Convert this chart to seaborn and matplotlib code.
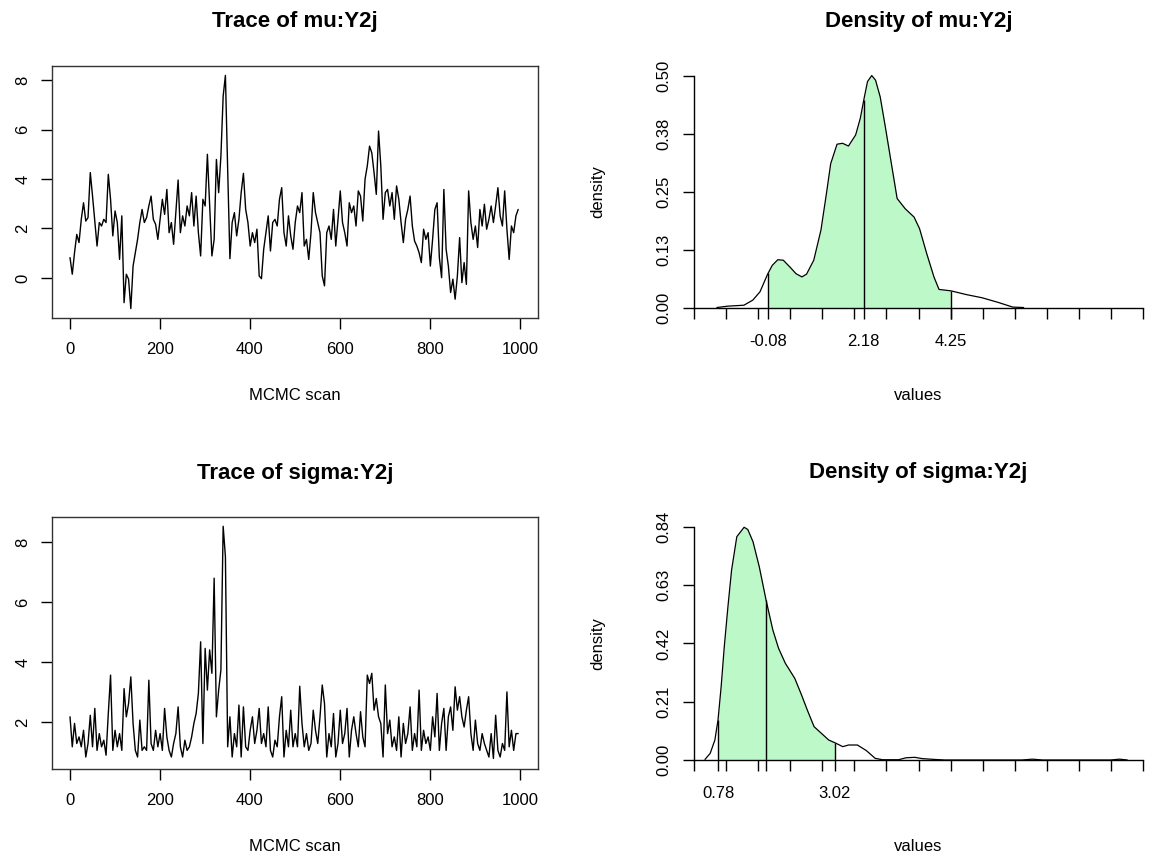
import matplotlib
matplotlib.use("Agg")
import matplotlib.pyplot as plt
import numpy as np
import seaborn as sns

# MCMC draws (one value every 5th scan)
scan_step = 5
mu_trace = [
    0.82, 0.15, 1.02, 1.76, 1.43, 2.37, 3.04, 2.30, 2.44, 4.26,
    3.31, 2.30, 1.29, 2.24, 2.10, 2.37, 2.24, 4.19, 3.18, 1.70,
    2.71, 2.24, 0.75, 2.51, -1.00, 0.15, -0.05, -1.24, 0.48, 1.02,
    1.56, 2.24, 2.77, 2.24, 2.44, 2.91, 3.31, 2.37, 2.17, 1.56,
    2.37, 3.18, 2.57, 3.58, 1.83, 2.24, 1.36, 2.64, 3.96, 1.83,
    2.51, 2.10, 2.91, 2.51, 3.45, 2.10, 3.31, 1.83, 0.89, 3.18,
    2.91, 5.00, 2.91, 0.89, 1.56, 4.79, 3.45, 4.93, 7.35, 8.19,
    4.39, 0.78, 2.24, 2.64, 1.70, 2.37, 3.45, 4.23, 2.77, 2.24,
    1.29, 1.83, 1.43, 1.97, 0.08, -0.03, 1.16, 1.83, 2.51, 1.09,
    2.24, 2.37, 2.10, 3.18, 3.65, 1.83, 1.29, 2.51, 1.70, 1.16,
    2.24, 2.91, 2.64, 3.45, 1.29, 1.56, 0.75, 1.83, 3.45, 2.64,
    2.24, 1.83, 0.08, -0.32, 1.83, 2.10, 1.56, 2.77, 1.29, 2.37,
    3.52, 2.24, 1.83, 1.29, 3.04, 2.64, 2.91, 2.10, 3.52, 3.31,
    2.30, 3.99, 4.53, 5.33, 5.06, 4.26, 3.38, 5.94, 4.53, 2.37,
    3.45, 3.58, 2.91, 3.45, 2.37, 3.72, 3.18, 2.24, 1.43, 2.37,
    2.77, 3.31, 2.10, 1.49, 1.29, 1.02, 0.62, 1.97, 1.56, 1.83,
    0.48, 1.56, 2.77, 3.04, 0.82, 0.01, 3.58, 1.16, 0.48, -0.59,
    -0.05, -0.86, 0.08, 1.63, -0.19, 0.62, -0.26, 3.52, 2.24, 1.56,
    2.10, 1.23, 2.77, 2.10, 2.98, 1.97, 2.37, 2.91, 2.24, 2.91,
    3.65, 2.51, 2.10, 3.52, 1.97, 0.75, 2.10, 1.83, 2.51, 2.77,
]
sigma_trace = [
    2.18, 1.18, 1.96, 1.29, 1.51, 1.18, 1.73, 0.84, 1.29, 2.23,
    1.18, 2.46, 1.06, 1.62, 1.18, 1.40, 0.90, 2.29, 3.57, 1.06,
    1.73, 1.18, 1.62, 1.06, 3.12, 2.18, 2.62, 3.51, 1.96, 1.06,
    0.84, 2.07, 1.06, 1.18, 1.06, 3.40, 1.29, 1.06, 1.73, 1.18,
    1.62, 1.06, 2.46, 1.51, 1.06, 0.84, 1.29, 1.62, 2.51, 1.18,
    0.84, 1.40, 1.06, 1.18, 1.51, 1.96, 2.29, 2.96, 4.68, 1.29,
    4.46, 3.07, 4.41, 3.63, 6.80, 2.18, 3.07, 3.74, 8.53, 7.52,
    1.18, 2.18, 0.84, 1.62, 1.18, 2.57, 0.84, 2.51, 1.18, 1.06,
    1.73, 2.18, 1.29, 1.73, 2.46, 1.29, 1.62, 1.18, 2.51, 1.06,
    0.84, 1.40, 1.18, 2.18, 2.85, 0.84, 1.73, 1.18, 2.40, 1.18,
    1.62, 1.18, 3.20, 1.96, 1.18, 1.62, 1.06, 1.29, 2.40, 1.73,
    1.29, 2.18, 3.24, 2.62, 0.84, 1.62, 1.18, 2.29, 0.84, 1.29,
    2.40, 1.29, 1.62, 2.46, 0.84, 1.73, 2.18, 1.62, 1.18, 2.35,
    1.51, 1.18, 3.57, 3.29, 3.63, 2.40, 2.79, 2.18, 1.96, 0.84,
    3.24, 1.62, 2.07, 1.18, 1.51, 1.06, 2.18, 0.84, 1.96, 1.29,
    1.62, 2.51, 1.06, 1.62, 1.18, 3.07, 1.06, 1.73, 1.29, 1.51,
    1.06, 2.18, 1.51, 2.96, 1.06, 1.96, 2.46, 1.06, 2.18, 2.51,
    1.73, 3.18, 2.40, 2.85, 2.18, 1.84, 2.40, 2.85, 1.62, 1.06,
    2.07, 1.29, 1.06, 1.62, 1.29, 1.06, 0.84, 1.62, 0.79, 2.23,
    1.06, 0.84, 1.29, 1.06, 3.01, 1.18, 1.73, 1.06, 1.62, 1.62,
]

# density curves
mu_dens_x = [-1.29, -1.03, -0.65, -0.44, -0.27, -0.09, 0.02, 0.15, 0.28, 0.45,
             0.58, 0.72, 0.83, 1.00, 1.17, 1.30, 1.40, 1.55, 1.68, 1.82,
             1.99, 2.10, 2.19, 2.27, 2.37, 2.46, 2.57, 2.69, 2.82, 2.97,
             3.16, 3.37, 3.50, 3.67, 3.84, 3.96, 4.24, 4.60, 4.98, 5.36,
             5.70, 5.96]
mu_dens_y = [0.001, 0.004, 0.006, 0.017, 0.035, 0.073, 0.092, 0.104, 0.103, 0.087,
             0.074, 0.067, 0.073, 0.103, 0.168, 0.247, 0.311, 0.353, 0.355, 0.349,
             0.373, 0.409, 0.452, 0.488, 0.501, 0.491, 0.455, 0.391, 0.319, 0.236,
             0.214, 0.196, 0.171, 0.117, 0.067, 0.040, 0.037, 0.029, 0.022, 0.012,
             0.002, 0.001]
sigma_dens_x = [0.53, 0.63, 0.72, 0.78, 0.84, 0.90, 0.97, 1.04, 1.14, 1.28,
                1.35, 1.45, 1.57, 1.70, 1.83, 1.94, 2.07, 2.25, 2.38, 2.49,
                2.62, 2.76, 2.90, 3.02, 3.17, 3.28, 3.45, 3.62, 3.79, 3.93,
                4.24, 4.38, 4.55, 4.69, 4.93, 5.13, 6.60, 6.80, 7.00, 8.30,
                8.47, 8.62]
sigma_dens_y = [0.002, 0.024, 0.072, 0.144, 0.264, 0.408, 0.552, 0.684, 0.804, 0.838,
                0.830, 0.786, 0.696, 0.576, 0.468, 0.402, 0.348, 0.294, 0.234, 0.180,
                0.120, 0.096, 0.072, 0.062, 0.048, 0.054, 0.054, 0.034, 0.006, 0.001,
                0.001, 0.008, 0.0096, 0.005, 0.002, 0.0, 0.0, 0.003, 0.0, 0.0,
                0.003, 0.0]

# 2.5%, 50% and 97.5% quantiles marked on the density axes
mu_quant = [-0.08, 2.18, 4.25]
mu_quant_labels = ["-0.08", "2.18", "4.25"]
sigma_quant = [0.78, 1.70, 3.02]
sigma_quant_labels = ["0.78", "", "3.02"]

mu_trace_ticks = [0, 2, 4, 6, 8]
sigma_trace_ticks = [2, 4, 6, 8]
scan_ticks = [0, 200, 400, 600, 800, 1000]
mu_dens_ticks = [0, 0.125, 0.25, 0.375, 0.5]
mu_dens_ticklabels = ["0.00", "0.13", "0.25", "0.38", "0.50"]
sigma_dens_ticks = [0, 0.21, 0.42, 0.63, 0.84]
sigma_dens_ticklabels = ["0.00", "0.21", "0.42", "0.63", "0.84"]

sns.set_style("ticks")
plt.rcParams["font.family"] = ["Liberation Sans", "DejaVu Sans"]
plt.rcParams["text.color"] = "black"
plt.rcParams["axes.labelcolor"] = "black"

W, H = 1152, 857
fig = plt.figure(figsize=(W / 100, H / 100), dpi=100)
FILL = "#bdf8c9"
TICK_FS = 12


def px_axes(x0, y0, x1, y1):
    # axes from pixel box (top-left origin)
    return fig.add_axes([x0 / W, 1 - y1 / H, (x1 - x0) / W, (y1 - y0) / H])


def trace_panel(box, values, yticks, ylim, title):
    ax = px_axes(*box)
    scans = 1 + scan_step * np.arange(len(values))
    sns.lineplot(x=scans, y=values, ax=ax, color="black", linewidth=1.0,
                 estimator=None, sort=False)
    ax.set_xlim(-39, 1040)
    ax.set_ylim(*ylim)
    ax.set_xticks(scan_ticks)
    ax.set_yticks(yticks)
    ax.tick_params(axis="both", length=8, width=1, color="black",
                   labelsize=TICK_FS, labelcolor="black")
    ax.tick_params(axis="x", pad=9)
    ax.tick_params(axis="y", pad=7.5, labelrotation=90)
    for lab in ax.get_yticklabels():
        lab.set_va("center")
    for s in ax.spines.values():
        s.set_linewidth(1)
        s.set_color("#333333")
    ax.set_xlabel("MCMC scan", fontsize=TICK_FS, color="black")
    ax.xaxis.set_label_coords(0.5, -0.306)
    ax.xaxis.label.set_va("center")
    ax.set_ylabel("")
    fig.text((box[0] + box[2]) / 2 / W, 1 - (box[1] - 44) / H, title,
             ha="center", va="center", fontsize=16, fontweight="bold",
             color="black")
    return ax


def density_panel(box, xs, ys, xlim, ylim, yticks, yticklabels,
                  quant, quant_labels, title, label_y):
    ax = px_axes(*box)
    xs = np.asarray(xs)
    ys = np.asarray(ys)
    lo, hi = quant[0], quant[-1]
    inner = (xs > lo) & (xs < hi)
    fx = np.concatenate([[lo], xs[inner], [hi]])
    fy = np.interp(fx, xs, ys)
    ax.fill_between(fx, fy, 0, color=FILL, linewidth=0)
    ax.vlines(quant, 0, np.interp(quant, xs, ys), color="black", linewidth=1)
    sns.lineplot(x=xs, y=ys, ax=ax, color="black", linewidth=0.9,
                 estimator=None, sort=False)
    ax.lines[-1].set_clip_on(False)
    ax.set_xlim(*xlim)
    ax.set_ylim(*ylim)
    ax.set_xticks(quant)
    ax.set_xticklabels(quant_labels)
    ax.set_xticks(np.linspace(xlim[0], xlim[1], 15), minor=True)
    ax.set_yticks(yticks)
    ax.set_yticklabels(yticklabels)
    ax.tick_params(axis="both", which="both", length=8, width=1,
                   color="black", labelsize=TICK_FS, labelcolor="black")
    ax.tick_params(axis="x", pad=11)
    ax.tick_params(axis="y", pad=8, labelrotation=90)
    for lab in ax.get_yticklabels():
        lab.set_va("center")
    ax.spines["top"].set_visible(False)
    ax.spines["right"].set_visible(False)
    for s in ("left", "bottom"):
        ax.spines[s].set_linewidth(1)
        ax.spines[s].set_color("black")
    ax.set_xlabel("values", fontsize=TICK_FS, color="black")
    ax.xaxis.set_label_coords(0.5, label_y)
    ax.xaxis.label.set_va("center")
    ax.set_ylabel("density", fontsize=TICK_FS, color="black")
    ax.yaxis.set_label_coords(-0.214, 0.5)
    ax.yaxis.label.set_va("center")
    fig.text((box[0] + box[2]) / 2 / W, 1 - (box[1] - 54) / H, title,
             ha="center", va="center", fontsize=16, fontweight="bold",
             color="black")
    return ax


trace_panel((52, 66, 538, 318), mu_trace, mu_trace_ticks, (-1.62, 8.57),
            "Trace of mu:Y2j")
trace_panel((52, 517, 538, 769), sigma_trace, sigma_trace_ticks, (0.44, 8.84),
            "Trace of sigma:Y2j")
density_panel((694, 76, 1143, 308), mu_dens_x, mu_dens_y, (-1.83, 8.78),
              (0, 0.5), mu_dens_ticks, mu_dens_ticklabels,
              mu_quant, mu_quant_labels, "Density of mu:Y2j", -0.379)
density_panel((694, 526.7, 1143, 760), sigma_dens_x, sigma_dens_y, (0.32, 8.92),
              (0, 0.84), sigma_dens_ticks, sigma_dens_ticklabels,
              sigma_quant, sigma_quant_labels, "Density of sigma:Y2j", -0.369)

fig.savefig("out.png", dpi=100)
